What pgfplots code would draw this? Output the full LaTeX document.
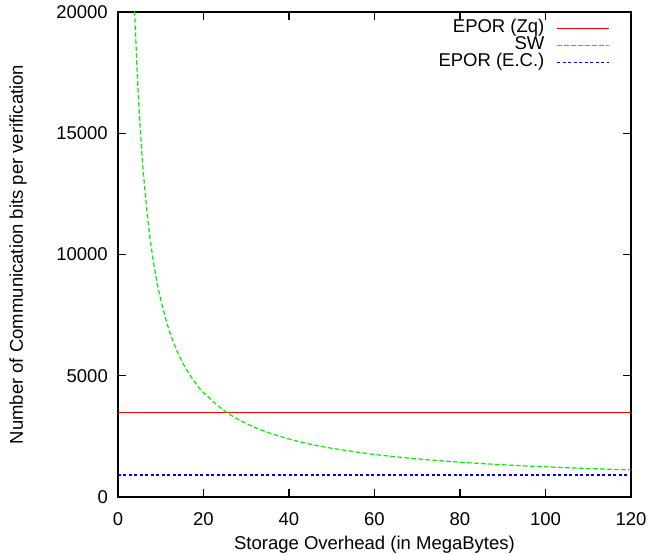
\documentclass[border=0pt]{standalone}
\usepackage{fontspec}
\setmainfont{Liberation Sans}
\usepackage{pgfplots}
\pgfplotsset{compat=1.18}
\begin{document}
\fontsize{18.5}{22}\selectfont
\begin{tikzpicture}
\useasboundingbox (-118pt,-57pt) rectangle (543pt,497pt);
\begin{axis}[
  at={(0pt,0pt)}, anchor=south west,
  scale only axis, width=513pt, height=485pt,
  xmin=0, xmax=120, ymin=0, ymax=20000,
  xtick={0,20,...,120}, ytick={0,5000,...,20000},
  scaled y ticks=false,
  /pgf/number format/assume math mode=true,
  yticklabel style={/pgf/number format/fixed,/pgf/number format/1000 sep={}, font=\fontsize{18.5}{22}\selectfont, inner sep=0pt, anchor=east, xshift=-10pt},
  xticklabel style={font=\fontsize{18.5}{22}\selectfont, inner sep=0pt, anchor=north, yshift=-15pt},
  tick align=inside, major tick length=8pt,
  tick style={black, line width=1.3pt},
  axis line style={draw=black, line width=1.6pt},
  axis background/.style={draw=black, line width=1.6pt},
  xlabel={Storage Overhead (in MegaBytes)},
  ylabel={Number of Communication bits per verification},
  xlabel style={at={(axis description cs:0.5,0)}, anchor=center, yshift=-48pt, font=\fontsize{18.5}{22}\selectfont},
  ylabel style={at={(axis description cs:0,0.5)}, anchor=center, rotate=0, yshift=100pt, font=\fontsize{18.5}{22}\selectfont},
  legend plot pos=right,
  legend cell align=right,
  legend image code/.code={\draw[#1] (0pt,0pt) -- (52pt,0pt);},
  legend style={at={(1,1)}, anchor=north east, xshift=-21pt, yshift=-8pt, draw=none, fill=none,
    font=\fontsize{18.5}{22}\selectfont, inner sep=0pt, column sep=12pt, row sep=0pt,
    nodes={inner sep=0pt, text height=12pt, text depth=5pt}},
]
\addplot[color={rgb,255:red,255;green,0;blue,0}, line width=1.2pt] coordinates {(0,3500) (120,3500)};
\addlegendentry{EPOR (Zq)}
\addplot[color={rgb,255:red,0;green,238;blue,0}, line width=1.2pt, dash pattern=on 4.5pt off 2.5pt, smooth] coordinates {
(3.5,22337) (3.75,20880) (4,19605) (4.5,17480) (5,15780) (5.5,14389) (6,13230) (7,11409) (8,10042) (9,8980) (10,8130)
(12,6855) (14,5944) (16,5261) (18,4730) (20,4305) (25,3540) (30,3030) (35,2666) (40,2392) (45,2180) (50,2010)
(60,1755) (70,1573) (80,1436) (90,1330) (100,1245) (110,1175) (120,1118)};
\addlegendentry{SW}
\addplot[color={rgb,255:red,0;green,0;blue,255}, line width=1.4pt, dash pattern=on 3pt off 2.5pt] coordinates {(0,900) (120,900)};
\addlegendentry{EPOR (E.C.)}
\end{axis}
\end{tikzpicture}
\end{document}
